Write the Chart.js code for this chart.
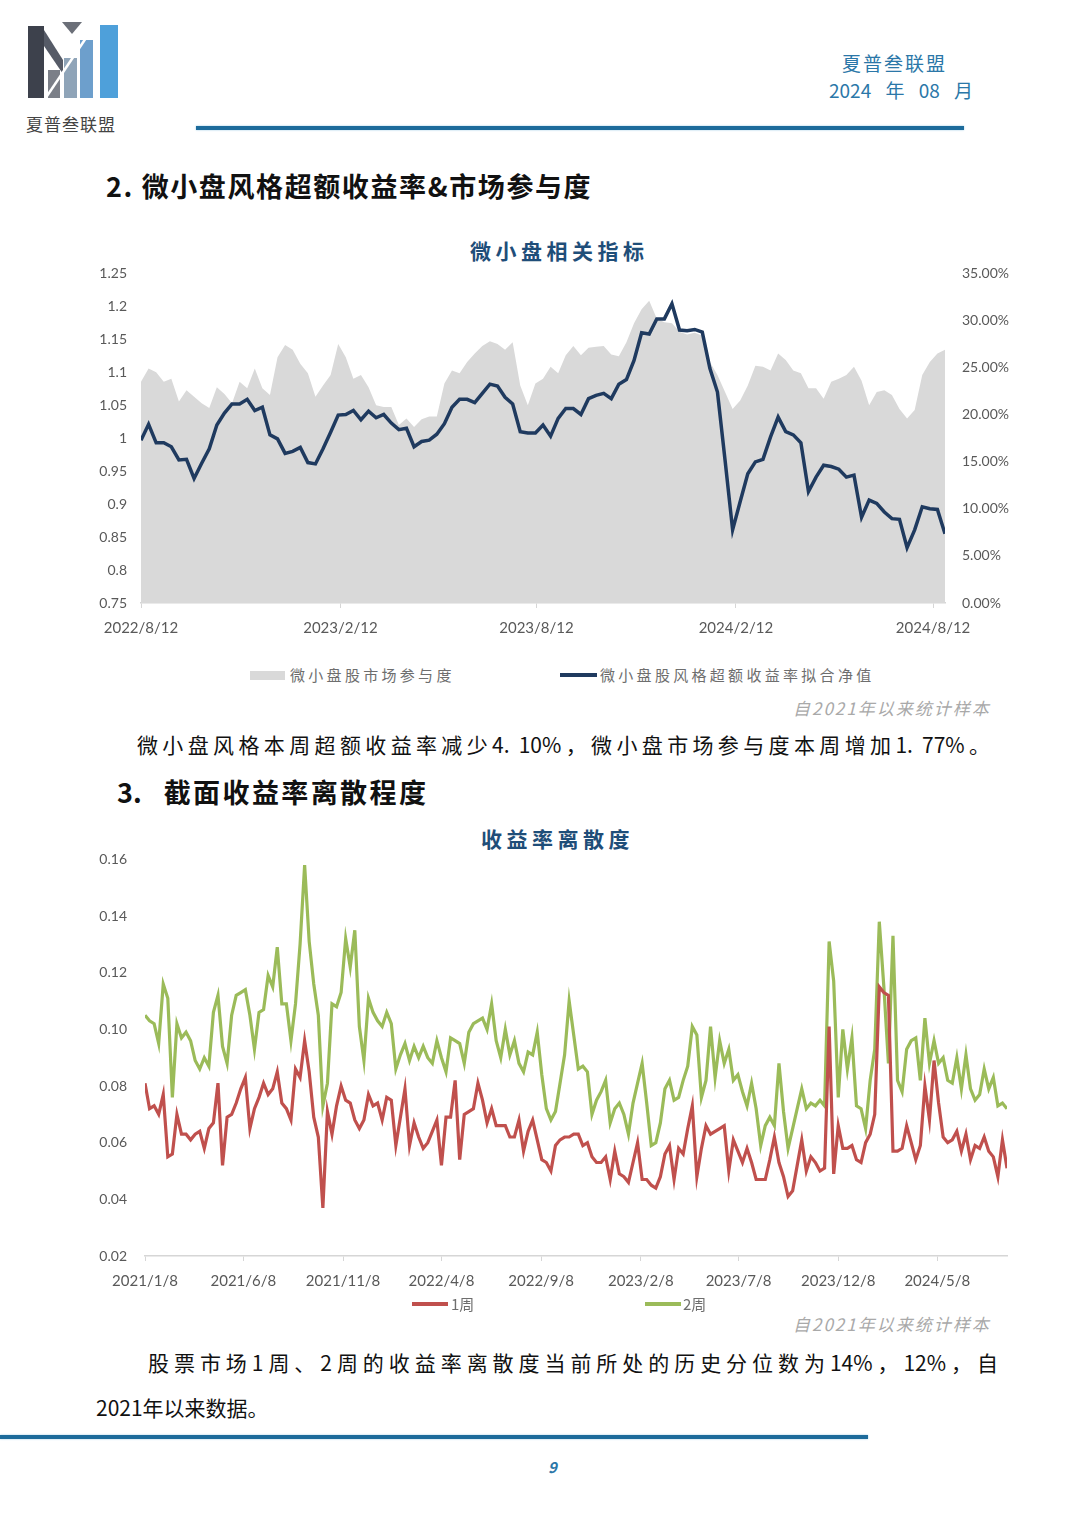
<!DOCTYPE html>
<html>
<head>
<meta charset="utf-8">
<script src="https://cdn.jsdelivr.net/npm/chart.js@4.4.1/dist/chart.umd.min.js"></script>
<style>
  body { margin: 0; background: #fff; }
  #page { position: relative; width: 1080px; height: 1528px; overflow: hidden; background: #fff;
          font-family: "Noto Sans CJK SC", "Noto Sans", sans-serif; }
  .abs { position: absolute; white-space: nowrap; }
  .rule { position: absolute; height: 4px; background: #1d6b9b; box-shadow: 0 0 2px #8fc3df; }
  .ctitle { font-size: 21px; font-weight: 700; color: #1f4e79; letter-spacing: 4.5px; }
  .sect { font-size: 27px; font-weight: 700; color: #111; }
  .note { font-size: 17px; font-style: italic; color: #a9a9a9; letter-spacing: 2px; }
  .para { font-size: 21px; color: #111; }
  .leg { font-size: 15px; color: #6e6e6e; letter-spacing: 3.3px; }
  .box { position: absolute; }
</style>
</head>
<body>
<div id="page">
  <!-- logo -->
  <svg class="abs" style="left:0;top:0" width="130" height="100" viewBox="0 0 130 100">
    <polygon points="28,26 44,26 44,98 28,98" fill="#3d414c"/>
    <polygon points="44,30 63,60 63,74 44,46" fill="#565b67"/>
    <polygon points="62,22 82,22 72,34" fill="#6b6f78"/>
    <polygon points="48,70 60,70 60,98 48,98" fill="#7b7f88"/>
    <polygon points="64,58 77,58 77,98 64,98" fill="#8fa4b8"/>
    <polygon points="80,40 93,40 93,98 80,98" fill="#6d9fcc"/>
    <polygon points="100,25 118,25 118,98 100,98" fill="#4ea0da"/>
    <line x1="45" y1="99" x2="86" y2="38" stroke="#fff" stroke-width="2.5"/>
  </svg>
  <div class="abs" style="left:26px;top:111px;font-size:17px;color:#444;letter-spacing:1px">夏普叁联盟</div>

  <div class="abs" style="left:842px;top:49px;font-size:19px;color:#2b77a8;letter-spacing:2px">夏普叁联盟</div>
  <div class="abs" style="left:829px;top:76px;font-size:19px;color:#2b77a8;word-spacing:10px">2024 年 08 月</div>
  <div class="rule" style="left:196px;top:126px;width:768px"></div>

  <div class="abs sect" style="left:106px;top:166px;letter-spacing:1.6px">2. 微小盘风格超额收益率&amp;市场参与度</div>
  <div class="abs ctitle" style="left:470px;top:235px">微小盘相关指标</div>
  <div class="box" style="left:80px;top:248px;width:950px;height:395px"><canvas id="c1"></canvas></div>

  <div class="abs" style="left:250px;top:671px;width:35px;height:9px;background:#d9d9d9"></div>
  <div class="abs leg" style="left:290px;top:664px">微小盘股市场参与度</div>
  <div class="abs" style="left:560px;top:673px;width:37px;height:4px;background:#1f3a5f"></div>
  <div class="abs leg" style="left:600px;top:664px">微小盘股风格超额收益率拟合净值</div>
  <div class="abs note" style="left:793px;top:695px">自2021年以来统计样本</div>

  <div class="abs para" style="left:137px;top:729px;width:853px;text-align:justify;text-align-last:justify">微小盘风格本周超额收益率减少4. 10%，微小盘市场参与度本周增加1. 77%。</div>

  <div class="abs sect" style="left:117px;top:772px">3.<span style="margin-left:22px;letter-spacing:2.4px">截面收益率离散程度</span></div>
  <div class="abs ctitle" style="left:481px;top:823px">收益率离散度</div>
  <div class="box" style="left:80px;top:833px;width:940px;height:463px"><canvas id="c2"></canvas></div>

  <div class="abs" style="left:412px;top:1302px;width:36px;height:4px;background:#c0504d"></div>
  <div class="abs leg" style="left:451px;top:1293px;letter-spacing:0">1周</div>
  <div class="abs" style="left:645px;top:1302px;width:36px;height:4px;background:#9bbb59"></div>
  <div class="abs leg" style="left:683px;top:1293px;letter-spacing:0">2周</div>
  <div class="abs note" style="left:793px;top:1311px">自2021年以来统计样本</div>

  <div class="abs para" style="left:148px;top:1347px;width:850px;text-align:justify;text-align-last:justify">股票市场1周、2周的收益率离散度当前所处的历史分位数为14%，12%，自</div>
  <div class="abs para" style="left:96px;top:1392px">2021年以来数据。</div>
  <div class="rule" style="left:0;top:1435px;width:868px"></div>
  <div class="abs" style="left:548px;top:1456px;font-size:15px;font-weight:700;font-style:italic;color:#2b77a8">9</div>
</div>

<script>
// chart 1: weekly from 2022/8/12
const navTickPos = [0, 26.29, 52.14, 78.43, 104.43];
const navTickLabels = ["2022/8/12", "2023/2/12", "2023/8/12", "2024/2/12", "2024/8/12"];

// 微小盘股市场参与度 (%)
const participation = [
  23.5, 24.9, 24.5, 23.5, 23.8, 21.4, 22.6, 21.9, 21.2, 20.7,
  22.9, 22.2, 21.2, 23.5, 22.8, 24.9, 22.8, 22.1, 26.1, 27.4,
  26.9, 25.4, 24.4, 21.9, 23.1, 24.2, 27.5, 26.1, 23.8, 24.2,
  22.9, 21.0, 20.8, 20.8, 18.9, 19.6, 18.7, 19.5, 19.8, 19.8,
  23.3, 24.7, 24.4, 25.6, 26.5, 27.3, 27.8, 27.5, 26.9, 27.7,
  23.1, 21.0, 23.3, 23.8, 25.1, 24.4, 26.3, 27.3, 26.3, 27.1,
  27.2, 27.3, 26.4, 26.2, 27.7, 29.7, 31.2, 32.1, 30.2, 29.8,
  29.7, 28.8, 28.5, 28.7, 28.4, 25.6, 24.2, 22.4, 20.6, 21.5,
  23.1, 25.2, 25.1, 24.7, 26.5, 25.8, 24.7, 24.4, 22.8, 22.8,
  21.7, 23.5, 23.8, 24.2, 25.1, 23.6, 21.0, 22.4, 22.6, 22.1,
  20.6, 19.6, 20.5, 24.2, 25.6, 26.5, 26.9
];

// 微小盘股风格超额收益率拟合净值
const excessNav = [
  0.997, 1.021, 0.993, 0.993, 0.987, 0.967, 0.968, 0.939, 0.962, 0.984,
  1.020, 1.038, 1.052, 1.052, 1.059, 1.042, 1.047, 1.005, 0.999, 0.977,
  0.980, 0.986, 0.963, 0.961, 0.984, 1.009, 1.035, 1.036, 1.042, 1.028,
  1.041, 1.031, 1.036, 1.023, 1.013, 1.015, 0.987, 0.995, 0.997, 1.006,
  1.022, 1.047, 1.059, 1.059, 1.054, 1.068, 1.082, 1.079, 1.062, 1.052,
  1.010, 1.008, 1.008, 1.020, 1.003, 1.030, 1.045, 1.045, 1.036, 1.060,
  1.065, 1.068, 1.060, 1.082, 1.089, 1.118, 1.160, 1.158, 1.181, 1.181,
  1.204, 1.164, 1.163, 1.165, 1.161, 1.106, 1.070, 0.967, 0.861, 0.904,
  0.946, 0.964, 0.968, 1.002, 1.032, 1.010, 1.005, 0.993, 0.919, 0.941,
  0.959, 0.957, 0.953, 0.941, 0.944, 0.880, 0.906, 0.901, 0.888, 0.878,
  0.877, 0.834, 0.861, 0.896, 0.893, 0.892, 0.855
];

// chart 2: weekly from 2021/1/8
const dispTickPos = [0, 21.57, 43.43, 65, 86.86, 108.71, 130.14, 152, 173.71];
const dispTickLabels = ["2021/1/8", "2021/6/8", "2021/11/8", "2022/4/8", "2022/9/8",
                        "2023/2/8", "2023/7/8", "2023/12/8", "2024/5/8"];

const disp1w = [
  0.081, 0.072, 0.073, 0.070, 0.077, 0.055, 0.056, 0.070, 0.063, 0.063,
  0.061, 0.063, 0.064, 0.058, 0.065, 0.067, 0.081, 0.052, 0.069, 0.070,
  0.074, 0.079, 0.083, 0.065, 0.072, 0.076, 0.081, 0.077, 0.079, 0.085,
  0.074, 0.072, 0.068, 0.086, 0.083, 0.096, 0.085, 0.069, 0.062, 0.037,
  0.071, 0.063, 0.073, 0.080, 0.075, 0.074, 0.068, 0.065, 0.068, 0.077,
  0.073, 0.074, 0.068, 0.076, 0.075, 0.059, 0.069, 0.079, 0.059, 0.067,
  0.062, 0.058, 0.060, 0.064, 0.068, 0.052, 0.069, 0.069, 0.082, 0.054,
  0.070, 0.071, 0.072, 0.081, 0.075, 0.067, 0.072, 0.066, 0.066, 0.066,
  0.062, 0.062, 0.068, 0.057, 0.064, 0.068, 0.061, 0.054, 0.053, 0.050,
  0.059, 0.061, 0.062, 0.062,
  0.063, 0.063, 0.059, 0.060, 0.055, 0.053, 0.053, 0.055, 0.047, 0.057,
  0.049, 0.048, 0.046, 0.053, 0.060, 0.047, 0.047, 0.045, 0.044, 0.048,
  0.056, 0.059, 0.047, 0.058, 0.056, 0.065, 0.073, 0.048, 0.058, 0.066,
  0.063, 0.064, 0.065, 0.066, 0.050, 0.061, 0.057, 0.053, 0.058, 0.053,
  0.047, 0.047, 0.047, 0.054, 0.062, 0.053, 0.048, 0.041, 0.043, 0.052,
  0.061, 0.050, 0.055, 0.053, 0.050, 0.051, 0.101, 0.049, 0.066, 0.058,
  0.058, 0.059, 0.054, 0.053, 0.060, 0.063, 0.070, 0.115, 0.113, 0.112,
  0.057, 0.057, 0.058, 0.066, 0.060, 0.054, 0.059, 0.080, 0.068, 0.089,
  0.074, 0.062, 0.060, 0.061, 0.064, 0.057, 0.063, 0.054, 0.059, 0.058,
  0.062, 0.057, 0.055, 0.048, 0.061, 0.051
];

const disp2w = [
  0.105, 0.103, 0.102, 0.095, 0.116, 0.111, 0.076, 0.102, 0.097, 0.099,
  0.096, 0.089, 0.086, 0.090, 0.087, 0.106, 0.112, 0.094, 0.088, 0.105,
  0.112, 0.113, 0.114, 0.105, 0.093, 0.106, 0.107, 0.119, 0.115, 0.129,
  0.109, 0.109, 0.096, 0.109, 0.130, 0.158, 0.131, 0.116, 0.105, 0.073,
  0.081, 0.109, 0.108, 0.113, 0.132, 0.122, 0.135, 0.101, 0.089, 0.111,
  0.106, 0.103, 0.101, 0.106, 0.102, 0.086, 0.091, 0.095, 0.089, 0.094,
  0.090, 0.094, 0.090, 0.088, 0.096, 0.090, 0.085, 0.097, 0.096, 0.095,
  0.088, 0.099, 0.102, 0.103, 0.104, 0.100, 0.109, 0.096, 0.090, 0.100,
  0.091, 0.096, 0.088, 0.085, 0.092, 0.091, 0.099, 0.084, 0.072, 0.068,
  0.071, 0.081, 0.091, 0.110,
  0.098, 0.086, 0.087, 0.085, 0.070, 0.075, 0.078, 0.082, 0.067, 0.072,
  0.074, 0.070, 0.063, 0.074, 0.081, 0.088, 0.074, 0.059, 0.060, 0.067,
  0.079, 0.082, 0.075, 0.076, 0.082, 0.087, 0.101, 0.098, 0.076, 0.082,
  0.101, 0.083, 0.096, 0.088, 0.093, 0.082, 0.084, 0.078, 0.073, 0.081,
  0.072, 0.059, 0.066, 0.069, 0.066, 0.088, 0.071, 0.058, 0.065, 0.072,
  0.079, 0.072, 0.074, 0.073, 0.075, 0.073, 0.131, 0.117, 0.076, 0.100,
  0.086, 0.097, 0.073, 0.072, 0.065, 0.082, 0.093, 0.138, 0.115, 0.088,
  0.133, 0.082, 0.078, 0.093, 0.096, 0.097, 0.082, 0.104, 0.088, 0.096,
  0.088, 0.090, 0.082, 0.081, 0.090, 0.079, 0.091, 0.079, 0.075, 0.077,
  0.086, 0.079, 0.083, 0.073, 0.074, 0.072
];

const tickFont = { family: "Lato, 'Noto Sans', sans-serif", size: 14 };
const tickColor = "#595959";
const axisGray = "#d6d6d6";
const toPts = arr => arr.map((v, i) => ({ x: i, y: v }));

Chart.defaults.animation = false;
Chart.defaults.responsive = true;
Chart.defaults.maintainAspectRatio = false;

function dateAxis(pos, labels, max, pad) {
  return {
    type: "linear", min: 0, max: max,
    afterBuildTicks: s => { s.ticks = pos.map(v => ({ value: v })); },
    afterFit: s => { s.height = 40; },
    ticks: { callback: (v, i) => labels[i], color: tickColor, font: { ...tickFont, size: 15 },
             maxRotation: 0, autoSkip: false, padding: pad },
    grid: { display: true, drawOnChartArea: false, tickLength: 5, color: axisGray },
    border: { display: true, color: axisGray, width: 1.5 }
  };
}

new Chart(document.getElementById("c1"), {
  type: "line",
  data: {
    datasets: [
      { label: "微小盘股风格超额收益率拟合净值", data: toPts(excessNav), yAxisID: "y",
        borderColor: "#1f3a5f", borderWidth: 3.5, pointRadius: 0, tension: 0, order: 1 },
      { label: "微小盘股市场参与度", data: toPts(participation), yAxisID: "y1",
        borderWidth: 0, backgroundColor: "#d9d9d9", fill: "origin", pointRadius: 0, tension: 0, order: 2 }
    ]
  },
  options: {
    layout: { padding: 0 },
    plugins: { legend: { display: false }, tooltip: { enabled: false } },
    scales: {
      x: dateAxis(navTickPos, navTickLabels, 106, 11),
      y: {
        position: "left", min: 0.75, max: 1.25,
        afterFit: s => { s.width = 61; },
        ticks: { stepSize: 0.05, color: tickColor, font: tickFont, padding: 14,
                 callback: v => String(parseFloat(v.toFixed(2))) },
        grid: { display: false, drawTicks: false }, border: { display: false }
      },
      y1: {
        position: "right", min: 0, max: 35,
        afterFit: s => { s.width = 85; },
        ticks: { stepSize: 5, color: tickColor, font: tickFont, padding: 17,
                 callback: v => v.toFixed(2) + "%" },
        grid: { display: false, drawTicks: false }, border: { display: false }
      }
    }
  }
});

new Chart(document.getElementById("c2"), {
  type: "line",
  data: {
    datasets: [
      { label: "1周", data: toPts(disp1w), borderColor: "#c0504d", borderWidth: 3.2,
        pointRadius: 0, tension: 0 },
      { label: "2周", data: toPts(disp2w), borderColor: "#9bbb59", borderWidth: 3.2,
        pointRadius: 0, tension: 0 }
    ]
  },
  options: {
    layout: { padding: { right: 13 } },
    plugins: { legend: { display: false }, tooltip: { enabled: false } },
    scales: {
      x: dateAxis(dispTickPos, dispTickLabels, 189, 11),
      y: {
        min: 0.02, max: 0.16,
        afterFit: s => { s.width = 65; },
        ticks: { stepSize: 0.02, color: tickColor, font: tickFont, padding: 18,
                 callback: v => v.toFixed(2) },
        grid: { display: false, drawTicks: false }, border: { display: false }
      }
    }
  }
});
</script>
</body>
</html>
